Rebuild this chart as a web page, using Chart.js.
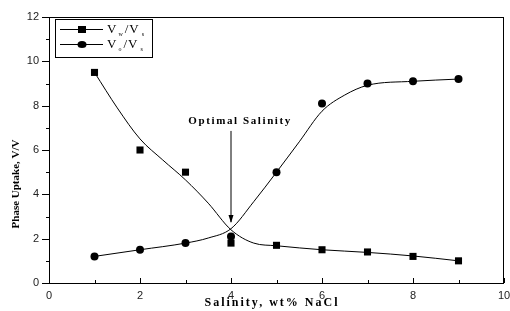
<!DOCTYPE html>
<html>
<head>
<meta charset="utf-8">
<script src="https://cdn.jsdelivr.net/npm/chart.js@4/dist/chart.umd.min.js"></script>
<style>
  html, body { margin: 0; padding: 0; background: #fff; }
</style>
</head>
<body>
<canvas id="phaseChart" width="510" height="311"></canvas>
<script>
// measured points
const salinity = [1, 2, 3, 4, 5, 6, 7, 8, 9];
const vwVs = [9.5, 6.0, 5.0, 1.8, 1.7, 1.5, 1.4, 1.2, 1.0];
const voVs = [1.2, 1.5, 1.8, 2.1, 5.0, 8.1, 9.0, 9.1, 9.2];

// fitted curves
const vwCurveX = [1, 1.5, 2, 2.5, 3, 3.5, 4, 4.5, 5, 6, 7, 8, 9];
const vwCurveY = [9.5, 7.9, 6.5, 5.55, 4.65, 3.6, 2.4, 1.8, 1.68, 1.5, 1.38, 1.22, 1.0];
const voCurveX = [1, 2, 3, 3.5, 4, 4.5, 5, 5.5, 6, 6.5, 7, 8, 9];
const voCurveY = [1.2, 1.5, 1.8, 2.03, 2.45, 3.67, 5.0, 6.37, 7.75, 8.48, 8.92, 9.1, 9.2];

const xTicks = [0, 2, 4, 6, 8, 10];
const yTicks = [0, 2, 4, 6, 8, 10, 12];

const annotationText = "Optimal Salinity";
const annotationAt = { x: 4.2, y: 7.28 };
const arrowFrom = { x: 4, y: 6.86 };
const arrowTo = { x: 4, y: 2.75 };

function toPoints(xs, ys) {
    return xs.map((x, i) => ({ x: x, y: ys[i] }));
}

const extrasPlugin = {
    id: "extras",
    afterDraw(chart) {
        const ctx = chart.ctx;
        const area = chart.chartArea;
        const xs = chart.scales.x;
        const ys = chart.scales.y;

        ctx.save();
        ctx.strokeStyle = "#000";
        ctx.lineWidth = 1;

        // frame
        ctx.strokeRect(area.left + 0.5, area.top + 0.5, area.right - area.left - 1, area.bottom - area.top);

        // y ticks, outward
        for (let v = 0; v <= 12; v++) {
            const py = Math.round(ys.getPixelForValue(v)) + 0.5;
            const len = v % 2 === 0 ? 7 : 3;
            ctx.beginPath();
            ctx.moveTo(area.left, py);
            ctx.lineTo(area.left - len, py);
            ctx.stroke();
        }
        // x ticks, inward
        for (let v = 0; v <= 10; v++) {
            const px = Math.round(xs.getPixelForValue(v)) + 0.5;
            const len = v % 2 === 0 ? 5 : 3;
            ctx.beginPath();
            ctx.moveTo(px, area.bottom);
            ctx.lineTo(px, area.bottom - len);
            ctx.stroke();
        }

        // arrow
        const ax = xs.getPixelForValue(arrowFrom.x);
        const ay1 = ys.getPixelForValue(arrowFrom.y);
        const ay2 = ys.getPixelForValue(arrowTo.y);
        ctx.beginPath();
        ctx.moveTo(ax, ay1);
        ctx.lineTo(ax, ay2);
        ctx.stroke();
        ctx.fillStyle = "#000";
        ctx.beginPath();
        ctx.moveTo(ax, ay2 + 1);
        ctx.lineTo(ax - 2.5, ay2 - 7);
        ctx.lineTo(ax + 2.5, ay2 - 7);
        ctx.closePath();
        ctx.fill();

        // annotation text
        ctx.font = "bold 11px 'Liberation Serif'";
        ctx.letterSpacing = "1.6px";
        ctx.textAlign = "center";
        ctx.textBaseline = "middle";
        ctx.fillText(annotationText, xs.getPixelForValue(annotationAt.x), ys.getPixelForValue(annotationAt.y));

        // x title
        ctx.font = "bold 12px 'Liberation Serif'";
        ctx.letterSpacing = "2px";
        ctx.fillText("Salinity, wt% NaCl", 272, 303);

        // y title
        ctx.letterSpacing = "0px";
        ctx.font = "bold 11px 'Liberation Serif'";
        ctx.translate(16, 184);
        ctx.rotate(-Math.PI / 2);
        ctx.fillText("Phase Uptake, V/V", 0, 0);
        ctx.restore();

        // legend
        ctx.save();
        ctx.strokeStyle = "#000";
        ctx.lineWidth = 1;
        ctx.fillStyle = "#fff";
        ctx.fillRect(55, 19, 97, 38);
        ctx.strokeRect(55.5, 19.5, 97, 38);
        const rows = [
            { y: 29, shape: "rect", sub1: "w", sub2: "s" },
            { y: 44, shape: "circle", sub1: "o", sub2: "s" }
        ];
        rows.forEach(r => {
            ctx.beginPath();
            ctx.moveTo(60, r.y + 0.5);
            ctx.lineTo(103, r.y + 0.5);
            ctx.stroke();
            ctx.fillStyle = "#000";
            ctx.beginPath();
            if (r.shape === "rect") {
                ctx.rect(78, r.y - 3, 8, 7);
            } else {
                ctx.ellipse(82, r.y + 0.5, 4.5, 3.5, 0, 0, Math.PI * 2);
            }
            ctx.fill();

            let x = 107;
            ctx.textAlign = "left";
            ctx.textBaseline = "alphabetic";
            const base = r.y + 4;
            ctx.font = "13px 'Liberation Serif'";
            ctx.fillText("V", x, base);
            x += ctx.measureText("V").width + 2;
            ctx.font = "6px 'Liberation Serif'";
            ctx.fillText(r.sub1, x, base + 3);
            x += ctx.measureText(r.sub1).width + 2;
            ctx.font = "13px 'Liberation Serif'";
            ctx.fillText("/", x, base);
            x += ctx.measureText("/").width + 1;
            ctx.fillText("V", x, base);
            x += ctx.measureText("V").width + 3;
            ctx.font = "6px 'Liberation Serif'";
            ctx.fillText(r.sub2, x, base + 3);
        });
        ctx.restore();
    }
};

new Chart(document.getElementById("phaseChart"), {
    type: "scatter",
    data: {
        datasets: [
            {
                label: "Vw/Vs fit",
                data: toPoints(vwCurveX, vwCurveY),
                showLine: true,
                borderColor: "#000",
                borderWidth: 1,
                pointRadius: 0,
                cubicInterpolationMode: "monotone"
            },
            {
                label: "Vo/Vs fit",
                data: toPoints(voCurveX, voCurveY),
                showLine: true,
                borderColor: "#000",
                borderWidth: 1,
                pointRadius: 0,
                cubicInterpolationMode: "monotone"
            },
            {
                label: "Vw/Vs",
                data: toPoints(salinity, vwVs),
                pointStyle: "rect",
                pointRadius: 5,
                backgroundColor: "#000",
                borderColor: "#000",
                borderWidth: 0
            },
            {
                label: "Vo/Vs",
                data: toPoints(salinity, voVs),
                pointStyle: "circle",
                pointRadius: 4,
                backgroundColor: "#000",
                borderColor: "#000",
                borderWidth: 0
            }
        ]
    },
    options: {
        responsive: false,
        animation: false,
        maintainAspectRatio: false,
        layout: { autoPadding: false, padding: { top: 17, right: 6, left: 0, bottom: 0 } },
        plugins: {
            legend: { display: false },
            tooltip: { enabled: false }
        },
        scales: {
            x: {
                type: "linear",
                min: 0,
                max: 10,
                afterFit(scale) {
                    scale.height = 28;
                    scale.paddingLeft = 0;
                    scale.paddingRight = 0;
                },
                afterBuildTicks(scale) { scale.ticks = xTicks.map(v => ({ value: v })); },
                grid: { display: false, drawTicks: false },
                border: { display: false },
                ticks: {
                    padding: 6,
                    color: "#222",
                    font: { family: "'Liberation Sans'", size: 11 }
                }
            },
            y: {
                type: "linear",
                min: 0,
                max: 12,
                afterFit(scale) {
                    scale.width = 49;
                    scale.paddingTop = 0;
                    scale.paddingBottom = 0;
                },
                afterBuildTicks(scale) { scale.ticks = yTicks.map(v => ({ value: v })); },
                grid: { display: false, drawTicks: false },
                border: { display: false },
                ticks: {
                    padding: 10,
                    color: "#222",
                    font: { family: "'Liberation Sans'", size: 11 }
                }
            }
        }
    },
    plugins: [extrasPlugin]
});
</script>
</body>
</html>
